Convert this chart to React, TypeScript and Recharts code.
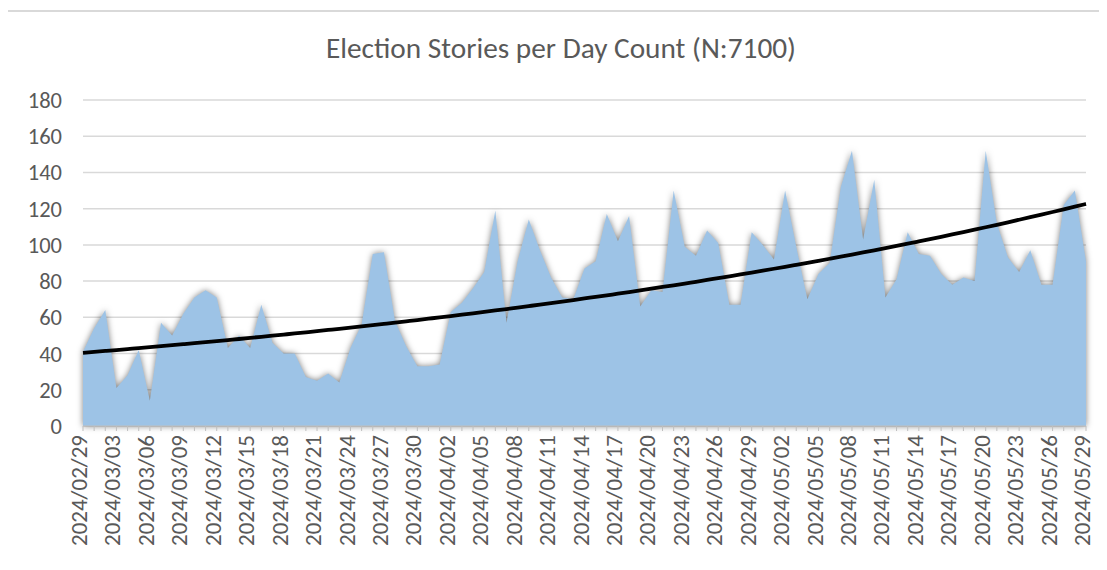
import React from "react";
import { ComposedChart, Area, Line, XAxis, YAxis, CartesianGrid } from "recharts";

const dates = [
  "2024/02/29",
  "2024/03/01", "2024/03/02", "2024/03/03", "2024/03/04", "2024/03/05", "2024/03/06", "2024/03/07", "2024/03/08", "2024/03/09", "2024/03/10",
  "2024/03/11", "2024/03/12", "2024/03/13", "2024/03/14", "2024/03/15", "2024/03/16", "2024/03/17", "2024/03/18", "2024/03/19", "2024/03/20",
  "2024/03/21", "2024/03/22", "2024/03/23", "2024/03/24", "2024/03/25", "2024/03/26", "2024/03/27", "2024/03/28", "2024/03/29", "2024/03/30",
  "2024/03/31",
  "2024/04/01", "2024/04/02", "2024/04/03", "2024/04/04", "2024/04/05", "2024/04/06", "2024/04/07", "2024/04/08", "2024/04/09", "2024/04/10",
  "2024/04/11", "2024/04/12", "2024/04/13", "2024/04/14", "2024/04/15", "2024/04/16", "2024/04/17", "2024/04/18", "2024/04/19", "2024/04/20",
  "2024/04/21", "2024/04/22", "2024/04/23", "2024/04/24", "2024/04/25", "2024/04/26", "2024/04/27", "2024/04/28", "2024/04/29", "2024/04/30",
  "2024/05/01", "2024/05/02", "2024/05/03", "2024/05/04", "2024/05/05", "2024/05/06", "2024/05/07", "2024/05/08", "2024/05/09", "2024/05/10",
  "2024/05/11", "2024/05/12", "2024/05/13", "2024/05/14", "2024/05/15", "2024/05/16", "2024/05/17", "2024/05/18", "2024/05/19", "2024/05/20",
  "2024/05/21", "2024/05/22", "2024/05/23", "2024/05/24", "2024/05/25", "2024/05/26", "2024/05/27", "2024/05/28", "2024/05/29",
];

// stories per day
const storyCounts = [
  41, 54, 64, 21, 28, 42, 14, 57, 50, 62,
  71, 75, 71, 43, 50, 43, 67, 46, 40, 40,
  27, 25, 29, 24, 43, 56, 95, 96, 58, 44,
  33, 33, 34, 63, 68, 76, 85, 119, 57, 91,
  114, 97, 82, 71, 70, 87, 91, 117, 102, 116,
  66, 75, 74, 130, 99, 94, 108, 101, 67, 67,
  107, 100, 92, 130, 99, 70, 84, 90, 132, 152,
  103, 136, 71, 81, 107, 95, 94, 84, 78, 82,
  80, 152, 112, 93, 85, 97, 78, 78, 122, 130,
  91,
];

const yTicks = [0, 20, 40, 60, 80, 100, 120, 140, 160, 180];
const title = "Election Stories per Day Count (N:7100)";

const FONT = "Carlito, Calibri, Lato, sans-serif";
const TEXT_COLOR = "#595959";

// exponential trendline (least squares on ln y, same as Excel)
function expTrend(values: number[]): number[] {
  const n = values.length;
  let sx = 0, sy = 0, sxx = 0, sxy = 0;
  values.forEach((v, i) => {
    const ly = Math.log(v);
    sx += i; sy += ly; sxx += i * i; sxy += i * ly;
  });
  const b = (n * sxy - sx * sy) / (n * sxx - sx * sx);
  const a = (sy - b * sx) / n;
  return values.map((_v, i) => Math.exp(a + b * i));
}

const trend = expTrend(storyCounts);
const chartData = dates.map((d, i) => ({ date: d, count: storyCounts[i], trend: trend[i] }));

function DateTick(props: any) {
  const { x, y, payload } = props;
  const idx = props.index ?? dates.indexOf(payload.value);
  if (idx % 3 !== 0) return null;
  return (
    <g transform={`translate(${x},${y}) rotate(-90)`}>
      <text x={0} y={-4} dy="0.35em" textAnchor="end" fill={TEXT_COLOR} fontSize={23} fontFamily={FONT}>
        {payload.value}
      </text>
    </g>
  );
}

export default function App() {
  return (
    <div style={{ position: "relative", width: 1107, height: 570, margin: -8, overflow: "hidden", background: "#fff" }}>
      <style>{`.story-area .recharts-area-area { filter: drop-shadow(0px 0px 3px rgba(0,0,0,0.5)); }`}</style>
      <div style={{ position: "absolute", left: 6, top: 10, width: 1300, height: 800, border: "2px solid #d9d9d9" }} />
      <div
        style={{
          position: "absolute", left: 0, top: 30, width: 1122, textAlign: "center",
          fontFamily: FONT, fontSize: 29.3, color: TEXT_COLOR,
        }}
      >
        {title}
      </div>
      <div style={{ position: "absolute", left: 0, top: 0 }}>
        <ComposedChart width={1107} height={570} data={chartData} margin={{ top: 100, right: 21, left: 0, bottom: 9 }}>
          <CartesianGrid vertical={false} stroke="#d9d9d9" strokeWidth={1.5} />
          <XAxis
            dataKey="date"
            scale="point"
            interval={0}
            height={135}
            tickSize={5}
            tickMargin={4}
            stroke="#bfbfbf"
            tick={<DateTick />}
          />
          <YAxis
            domain={[0, 180]}
            ticks={yTicks}
            width={83}
            axisLine={false}
            tickLine={false}
            tickSize={0}
            tickMargin={21}
            tick={{ fill: TEXT_COLOR, fontSize: 22.5, fontFamily: FONT }}
          />
          <Area
            className="story-area"
            dataKey="count"
            type="linear"
            fill="#9dc3e6"
            fillOpacity={1}
            stroke="none"
            isAnimationActive={false}
          />
          <Line
            dataKey="trend"
            type="monotone"
            stroke="#000"
            strokeWidth={3.8}
            dot={false}
            isAnimationActive={false}
          />
        </ComposedChart>
      </div>
    </div>
  );
}
